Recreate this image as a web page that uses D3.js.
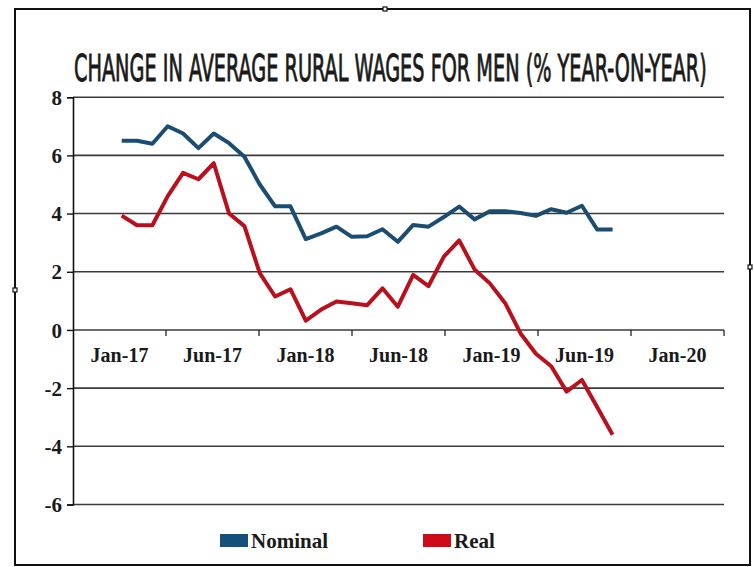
<!DOCTYPE html>
<html>
<head>
<meta charset="utf-8">
<script src="https://cdn.jsdelivr.net/npm/d3@7"></script>
<style>
  html, body { margin: 0; padding: 0; background: #fff; }
  svg { display: block; }
</style>
</head>
<body>
<svg id="chart" width="754" height="567"></svg>
<script>
// Monthly observations, Jan-17 through Sep-19
const months = ["Jan-17","Feb-17","Mar-17","Apr-17","May-17","Jun-17","Jul-17","Aug-17","Sep-17","Oct-17","Nov-17","Dec-17",
                "Jan-18","Feb-18","Mar-18","Apr-18","May-18","Jun-18","Jul-18","Aug-18","Sep-18","Oct-18","Nov-18","Dec-18",
                "Jan-19","Feb-19","Mar-19","Apr-19","May-19","Jun-19","Jul-19","Aug-19","Sep-19"];

const nominal = [6.5, 6.5, 6.4, 7.0, 6.75, 6.25, 6.75, 6.42, 5.95, 5.0, 4.25, 4.25,
                 3.12, 3.32, 3.55, 3.2, 3.22, 3.46, 3.03, 3.61, 3.55, 3.88, 4.24, 3.8,
                 4.08, 4.08, 4.02, 3.92, 4.15, 4.03, 4.27, 3.45, 3.45];

const real = [3.93, 3.6, 3.6, 4.6, 5.4, 5.18, 5.73, 4.0, 3.57, 1.95, 1.15, 1.4,
              0.32, 0.7, 0.98, 0.92, 0.85, 1.43, 0.8, 1.89, 1.51, 2.52, 3.08, 2.08,
              1.6, 0.92, -0.12, -0.82, -1.25, -2.12, -1.72, -2.66, -3.6];

const axisLabels = ["Jan-17", "Jun-17", "Jan-18", "Jun-18", "Jan-19", "Jun-19", "Jan-20"];
const yTicks = [-6, -4, -2, 0, 2, 4, 6, 8];

const seriesNames = ["Nominal", "Real"];
const lineColors = ["#1b4d72", "#b8111d"];
const swatchColors = ["#15507d", "#cf0a18"];

(function draw() {
  const svg = d3.select("#chart");

  // Outer frame
  svg.append("rect")
    .attr("x", 15).attr("y", 9).attr("width", 735).attr("height", 556)
    .attr("fill", "none").attr("stroke", "#111").attr("stroke-width", 2);
  [[385, 9], [15, 290], [750, 267]].forEach(([hx, hy]) => {
    svg.append("rect").attr("x", hx - 2).attr("y", hy - 2).attr("width", 4).attr("height", 4)
      .attr("fill", "#fff").attr("stroke", "#111").attr("stroke-width", 1.2);
  });

  // Title, squeezed horizontally into a condensed look
  const titleWidth = 633;
  const titleG = svg.append("g");
  const title = titleG.append("text")
    .attr("x", 0).attr("y", 0)
    .style("font-family", "'Liberation Sans Narrow', 'DejaVu Sans Condensed', 'Liberation Sans', sans-serif")
    .style("font-size", "38px")
    .style("fill", "#1a1a1a")
    .style("stroke", "#1a1a1a")
    .style("stroke-width", "0.9px")
    .text("CHANGE IN AVERAGE RURAL WAGES FOR MEN (% YEAR-ON-YEAR)");
  const natural = title.node().getComputedTextLength();
  titleG.attr("transform", `translate(74,81) scale(${titleWidth / natural},1)`);

  // Plot area
  const plotLeft = 73, plotRight = 724, plotTop = 97.2, plotBottom = 504.5;

  const y = d3.scaleLinear().domain([-6, 8]).range([plotBottom, plotTop]);

  // Category bands for the axis labels
  const xBand = d3.scaleBand().domain(axisLabels).range([plotLeft, plotRight]).padding(0);

  // Month index -> x position
  const x = d3.scaleLinear().domain([0, months.length - 1]).range([121.7, 612.6]);

  // Horizontal gridlines
  svg.append("g")
    .selectAll("line")
    .data(yTicks)
    .join("line")
    .attr("x1", plotLeft).attr("x2", plotRight)
    .attr("y1", d => y(d)).attr("y2", d => y(d))
    .attr("stroke", "#3a3a3a").attr("stroke-width", 1.6);

  // Y axis
  const yAxis = svg.append("g")
    .attr("transform", `translate(${plotLeft},0)`)
    .call(d3.axisLeft(y).tickValues(yTicks).tickSize(6).tickPadding(5).tickFormat(d => String(d)));
  yAxis.select(".domain").attr("stroke", "#111").attr("stroke-width", 1.6);
  yAxis.selectAll(".tick line").attr("stroke", "#111").attr("stroke-width", 1.4);
  yAxis.selectAll(".tick text")
    .style("font-family", "'Liberation Serif', 'DejaVu Serif', serif")
    .style("font-weight", "bold")
    .style("font-size", "21px")
    .style("fill", "#1a1a1a")
    .attr("dy", "0.34em");

  // X axis along zero, tick marks between labels
  const xAxisG = svg.append("g");
  const boundaries = axisLabels.map(d => xBand(d) + xBand.bandwidth());
  xAxisG.selectAll("line.tk")
    .data(boundaries)
    .join("line")
    .attr("class", "tk")
    .attr("x1", d => d).attr("x2", d => d)
    .attr("y1", y(0)).attr("y2", y(0) + 6)
    .attr("stroke", "#222").attr("stroke-width", 1.3);
  xAxisG.selectAll("text")
    .data(axisLabels)
    .join("text")
    .attr("x", d => xBand(d) + xBand.bandwidth() / 2)
    .attr("y", y(0) + 32)
    .attr("text-anchor", "middle")
    .style("font-family", "'Liberation Serif', 'DejaVu Serif', serif")
    .style("font-weight", "bold")
    .style("font-size", "20px")
    .style("fill", "#1a1a1a")
    .text(d => d);

  // Lines
  const line = d3.line()
    .x((d, i) => x(i))
    .y(d => y(d));

  [nominal, real].forEach((vals, k) => {
    svg.append("path")
      .datum(vals)
      .attr("fill", "none")
      .attr("stroke", lineColors[k])
      .attr("stroke-width", 4)
      .attr("stroke-linejoin", "round")
      .attr("d", line);
  });

  // Legend
  const legendX = [220, 423];
  const legend = svg.append("g");
  seriesNames.forEach((name, k) => {
    legend.append("rect")
      .attr("x", legendX[k]).attr("y", 534)
      .attr("width", 28).attr("height", 13)
      .attr("fill", swatchColors[k]);
    legend.append("text")
      .attr("x", legendX[k] + 31).attr("y", 547.5)
      .style("font-family", "'Liberation Serif', 'DejaVu Serif', serif")
      .style("font-weight", "bold")
      .style("font-size", "21px")
      .style("fill", "#1a1a1a")
      .text(name);
  });
})();
</script>
</body>
</html>
